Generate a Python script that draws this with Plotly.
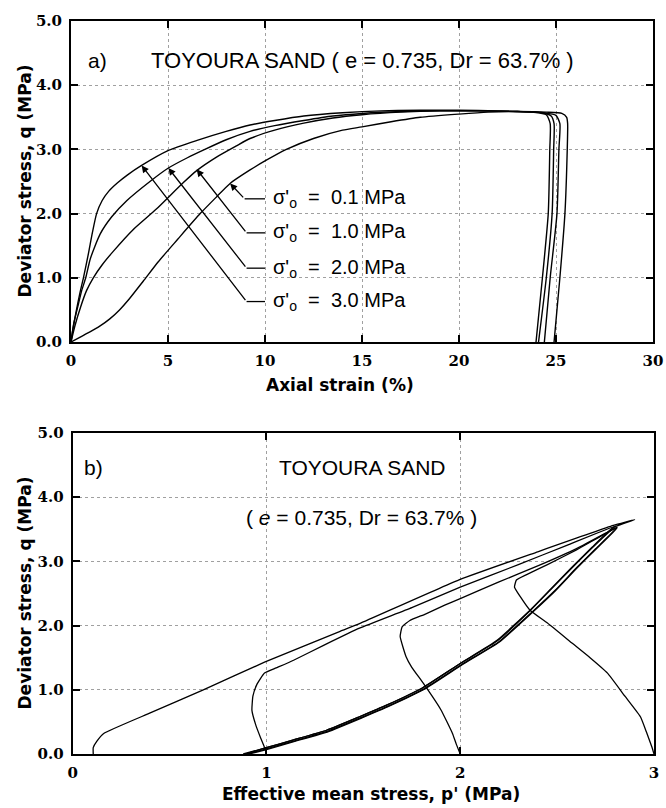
import plotly.graph_objects as go

# ---------------- data: panel a) deviator stress vs axial strain ----------------
eps_01 = [0, 0.5, 1.0, 1.5, 2.0, 2.5, 3.0, 3.73, 4.5, 5.5, 6.66, 7.5, 8.2, 9.23, 10.0, 11.1, 12.5,
          14.0, 15.0, 16.5, 18.0, 20.0, 21.5, 23.0, 24.5, 25.3, 25.55, 25.6, 25.58, 25.46, 25.2, 24.9]
q_01 = [0, 0.08, 0.16, 0.25, 0.36, 0.5, 0.67, 0.95, 1.25, 1.6, 2.0, 2.26, 2.47, 2.68, 2.82, 3.0, 3.17,
        3.3, 3.35, 3.43, 3.5, 3.55, 3.58, 3.59, 3.58, 3.56, 3.5, 3.4, 3.0, 2.0, 1.0, 0]

eps_10 = [0, 0.2, 0.5, 0.8, 1.15, 1.6, 2.2, 3.2, 4.4, 5.78, 6.48, 7.5, 8.5, 9.23, 10.5, 12, 13.5, 15,
          17, 19, 21, 23, 24.4, 25.0, 25.2, 25.15, 25.05, 24.7, 24.4]
q_10 = [0, 0.25, 0.55, 0.8, 1.0, 1.2, 1.42, 1.75, 2.07, 2.48, 2.67, 2.88, 3.05, 3.17, 3.3, 3.41, 3.49, 3.54,
        3.58, 3.6, 3.6, 3.59, 3.57, 3.53, 3.4, 3.0, 2.0, 1.0, 0]

eps_20 = [0, 0.15, 0.35, 0.55, 0.76, 1.0, 1.5, 2.1, 2.87, 4.07, 5.02, 6.0, 6.9, 8.0, 9.23, 10.5, 12, 13.5,
          15, 17, 19, 21, 23, 24.3, 24.75, 24.9, 24.88, 24.8, 24.5, 24.1]
q_20 = [0, 0.3, 0.55, 0.8, 1.0, 1.3, 1.68, 1.95, 2.2, 2.5, 2.71, 2.87, 3.0, 3.15, 3.28, 3.37, 3.45, 3.52,
        3.56, 3.59, 3.6, 3.6, 3.59, 3.57, 3.52, 3.4, 3.0, 2.0, 1.0, 0]

eps_30 = [0, 0.1, 0.25, 0.45, 0.64, 0.9, 1.1, 1.32, 1.6, 1.95, 2.4, 2.9, 3.64, 5.0, 6.5, 8.0, 9.23, 10.5,
          12, 14, 16, 18, 20, 22, 23.8, 24.5, 24.7, 24.68, 24.6, 24.3, 23.97]
q_30 = [0, 0.2, 0.45, 0.75, 1.0, 1.38, 1.7, 2.0, 2.2, 2.35, 2.48, 2.6, 2.75, 2.98, 3.14, 3.28, 3.38, 3.45,
        3.52, 3.57, 3.6, 3.61, 3.61, 3.6, 3.58, 3.54, 3.4, 3.0, 2.0, 1.0, 0]

labels_a = ["σ'<sub>o</sub>\u00a0 = \u00a00.1 MPa", "σ'<sub>o</sub>\u00a0 = \u00a01.0 MPa",
            "σ'<sub>o</sub>\u00a0 = \u00a02.0 MPa", "σ'<sub>o</sub>\u00a0 = \u00a03.0 MPa"]
arrow_tip_x = [8.2, 6.48, 5.02, 3.64]
arrow_tip_y = [2.47, 2.69, 2.71, 2.75]
elbow_x = [8.95, 9.05, 9.05, 9.05]
label_y = [2.23, 1.70, 1.15, 0.63]
label_x = 10.0

# ---------------- data: panel b) stress paths p' - q ----------------
p_01 = [0.106, 0.106, 0.125, 0.16, 0.4, 0.674, 0.99, 1.38, 1.48, 2.0, 2.4, 2.79, 2.9,
        2.79, 2.68, 2.58, 2.47, 2.36, 2.19, 2.0, 1.80, 1.62, 1.48, 1.31, 1.14, 0.99, 0.88]
qp_01 = [0, 0.1, 0.2, 0.32, 0.64, 1.0, 1.43, 1.91, 2.03, 2.72, 3.15, 3.56, 3.65,
         3.53, 3.22, 2.92, 2.58, 2.24, 1.77, 1.41, 1.02, 0.76, 0.58, 0.37, 0.22, 0.09, 0.0]

p_10 = [1.0, 0.99, 0.97, 0.945, 0.925, 0.93, 0.95, 0.99, 1.05, 1.14, 1.3, 1.48, 1.75, 2.0, 2.3, 2.55, 2.8,
        2.79, 2.68, 2.58, 2.47, 2.36, 2.19, 2.0, 1.80, 1.62, 1.48, 1.31, 1.14, 0.99, 0.89]
qp_10 = [0, 0.1, 0.25, 0.45, 0.68, 0.9, 1.08, 1.26, 1.34, 1.46, 1.7, 1.96, 2.28, 2.6, 2.95, 3.25, 3.55,
         3.52, 3.21, 2.91, 2.57, 2.23, 1.76, 1.41, 1.02, 0.76, 0.58, 0.37, 0.22, 0.09, 0.0]

p_20 = [2.0, 1.98, 1.96, 1.9, 1.81, 1.75, 1.72, 1.69, 1.70, 1.74, 1.82, 1.92, 2.0, 2.2, 2.4, 2.6, 2.8,
        2.81, 2.70, 2.60, 2.49, 2.37, 2.2, 2.01, 1.81, 1.63, 1.49, 1.32, 1.15, 1.0, 0.9]
qp_20 = [0, 0.15, 0.32, 0.69, 1.10, 1.35, 1.52, 1.83, 1.98, 2.08, 2.18, 2.32, 2.42, 2.68, 2.93, 3.2, 3.52,
         3.53, 3.2, 2.9, 2.55, 2.21, 1.75, 1.40, 1.01, 0.75, 0.57, 0.36, 0.21, 0.08, 0.0]

p_30 = [3.0, 2.99, 2.96, 2.93, 2.85, 2.76, 2.67, 2.58, 2.45, 2.36, 2.31, 2.28, 2.29, 2.34, 2.45, 2.6, 2.79,
        2.81, 2.70, 2.60, 2.49, 2.37, 2.2, 2.01, 1.81, 1.63, 1.49, 1.32, 1.15, 1.0, 0.91]
qp_30 = [0, 0.1, 0.35, 0.58, 0.9, 1.26, 1.5, 1.72, 2.04, 2.24, 2.45, 2.6, 2.71, 2.79, 2.95, 3.18, 3.5,
         3.52, 3.19, 2.89, 2.54, 2.2, 1.74, 1.39, 1.0, 0.74, 0.56, 0.35, 0.2, 0.07, 0.0]

# ---------------- figure ----------------
W, H = 666, 808
fig = go.Figure()

for ex, qy in [(eps_01, q_01), (eps_10, q_10), (eps_20, q_20), (eps_30, q_30)]:
    fig.add_trace(go.Scatter(x=ex, y=qy, mode="lines", xaxis="x", yaxis="y", hoverinfo="skip",
                             line=dict(color="black", width=1.4, shape="spline", smoothing=0.6)))

# leader lines (horizontal parts) for panel a)
for i in range(4):
    fig.add_trace(go.Scatter(x=[elbow_x[i], label_x], y=[label_y[i], label_y[i]], mode="lines",
                             line=dict(color="black", width=1.3), xaxis="x", yaxis="y", hoverinfo="skip"))

for px, qy in [(p_01, qp_01), (p_10, qp_10), (p_20, qp_20), (p_30, qp_30)]:
    fig.add_trace(go.Scatter(x=px, y=qy, mode="lines", xaxis="x2", yaxis="y2", hoverinfo="skip",
                             line=dict(color="black", width=1.3, shape="spline", smoothing=0.4)))

tickfont = dict(family="DejaVu Serif", size=15, color="black", weight="bold")
common = dict(showline=True, linecolor="black", linewidth=2, mirror="ticks", ticks="inside",
              ticklen=7, tickwidth=1.5, tickcolor="black", showgrid=True, gridcolor="#a0a0a0",
              griddash="dot", gridwidth=1, zeroline=False, tickfont=tickfont, automargin=False)

fig.update_layout(
    width=W, height=H, margin=dict(l=0, r=0, t=0, b=0, autoexpand=False),
    paper_bgcolor="white", plot_bgcolor="white", showlegend=False,
    xaxis=dict(range=[0, 30], dtick=5, domain=[71 / W, 653 / W], anchor="y",
               ticklabelstandoff=4, **common),
    yaxis=dict(range=[0, 5], dtick=1, tickformat=".1f", domain=[1 - 342 / H, 1 - 21 / H],
               anchor="x", ticklabelstandoff=4, **common),
    xaxis2=dict(range=[0, 3], dtick=1, domain=[72.7 / W, 654 / W], anchor="y2",
                ticklabelstandoff=4, **common),
    yaxis2=dict(range=[0, 5], dtick=1, tickformat=".1f", domain=[1 - 754 / H, 1 - 433 / H],
                anchor="x2", ticklabelstandoff=4, **common),
)

sans = "Liberation Sans, Arial, sans-serif"
title_font = dict(family="DejaVu Sans", size=17, color="black", weight="bold")
ann = []
# axis titles
for txt, x, y, ang in [("Deviator stress, q (MPa)", 24, 181.5, -90),
                       ("Deviator stress, q (MPa)", 24, 593.5, -90),
                       ("Axial strain (%)", 340, 385, 0),
                       ("Effective mean stress, p' (MPa)", 371, 794, 0)]:
    ann.append(dict(text=txt, xref="paper", yref="paper", x=x / W, y=1 - y / H, xanchor="center",
                    yanchor="middle", textangle=ang, showarrow=False, font=title_font))
# panel a) texts
ann.append(dict(text="a)", xref="x", yref="y", x=1.37, y=4.39, showarrow=False,
                font=dict(family=sans, size=21, color="black")))
ann.append(dict(text="TOYOURA SAND ( e = 0.735, Dr = 63.7% )", xref="x", yref="y", x=15.0, y=4.39,
                showarrow=False, font=dict(family=sans, size=22, color="black")))
for i in range(4):
    ann.append(dict(text="", xref="x", yref="y", axref="x", ayref="y", x=arrow_tip_x[i], y=arrow_tip_y[i],
                    ax=elbow_x[i], ay=label_y[i], showarrow=True, arrowhead=2, arrowsize=1.1,
                    arrowwidth=1.3, arrowcolor="black", standoff=0))
    ann.append(dict(text=labels_a[i], xref="x", yref="y", x=label_x + 0.3, y=label_y[i], xanchor="left",
                    yanchor="middle", showarrow=False, font=dict(family=sans, size=20, color="black")))
# panel b) texts
ann.append(dict(text="b)", xref="x2", yref="y2", x=0.105, y=4.47, showarrow=False,
                font=dict(family=sans, size=21, color="black")))
ann.append(dict(text="TOYOURA SAND", xref="x2", yref="y2", x=1.495, y=4.47, showarrow=False,
                font=dict(family=sans, size=21, color="black")))
ann.append(dict(text="( <i>e</i> = 0.735, Dr = 63.7% )", xref="x2", yref="y2", x=1.49, y=3.68,
                showarrow=False, font=dict(family=sans, size=21, color="black")))
fig.update_layout(annotations=ann)

fig.write_html("out.html")
